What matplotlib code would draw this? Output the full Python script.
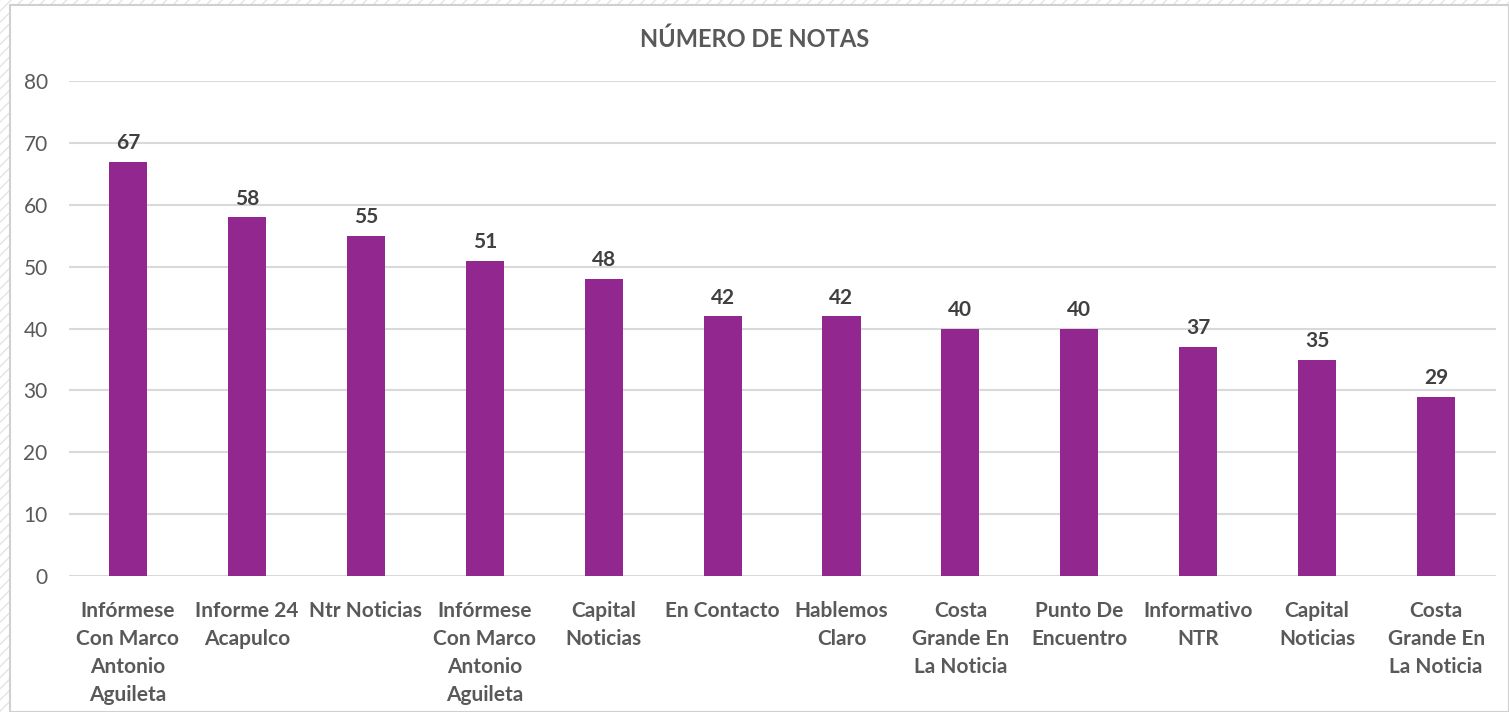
import matplotlib.pyplot as plt
from matplotlib.patches import Rectangle

categories = [
    "Infórmese\nCon Marco\nAntonio\nAguileta",
    "Informe 24\nAcapulco",
    "Ntr Noticias",
    "Infórmese\nCon Marco\nAntonio\nAguileta",
    "Capital\nNoticias",
    "En Contacto",
    "Hablemos\nClaro",
    "Costa\nGrande En\nLa Noticia",
    "Punto De\nEncuentro",
    "Informativo\nNTR",
    "Capital\nNoticias",
    "Costa\nGrande En\nLa Noticia",
]
values = [67, 58, 55, 51, 48, 42, 42, 40, 40, 37, 35, 29]
yticks = [0, 10, 20, 30, 40, 50, 60, 70, 80]

bar_color = "#92278F"
text_color = "#595959"
grid_color = "#D9D9D9"
plt.rcParams["font.family"] = ["Lato", "DejaVu Sans"]

fig = plt.figure(figsize=(15.09, 7.12), dpi=100)

# hatched surround and white chart area with a light border
fig.patches.append(Rectangle((0, 0), 1, 1, transform=fig.transFigure,
                             facecolor="white", edgecolor="#E4E4E4",
                             hatch="///", linewidth=0, zorder=-3))
fig.patches.append(Rectangle((10 / 1509, 0), 1 - 10 / 1509, 1 - 5 / 712,
                             transform=fig.transFigure, facecolor="white",
                             edgecolor="#D0D0D0", linewidth=1.5, zorder=-2))

ax = fig.add_axes([0.0454, 0.191, 0.9457, 0.695])
x = range(len(values))
bars = ax.bar(x, values, width=0.32, color=bar_color, zorder=3)

for xi, v in zip(x, values):
    ax.text(xi, v + 1.4, str(v), ha="center", va="bottom",
            fontsize=15, fontweight="bold", color="#404040")

ax.set_xlim(-0.5, len(values) - 0.5)
ax.set_ylim(0, 80)
ax.set_yticks(yticks)
ax.set_yticklabels([str(t) for t in yticks], fontsize=15, color=text_color)
ax.set_xticks(list(x))
ax.set_xticklabels(categories, fontsize=15, fontweight="bold",
                   color=text_color, linespacing=1.5)
ax.tick_params(axis="both", length=0)
ax.tick_params(axis="x", pad=18)
ax.tick_params(axis="y", pad=15)
ax.yaxis.grid(True, color=grid_color, linewidth=1.5, zorder=0)
for s in ax.spines.values():
    s.set_visible(False)
ax.set_facecolor("none")

fig.text(0.5, 0.945, "NÚMERO DE NOTAS", ha="center", va="center",
         fontsize=17, fontweight="bold", color=text_color)

fig.savefig("out.png", dpi=100)
